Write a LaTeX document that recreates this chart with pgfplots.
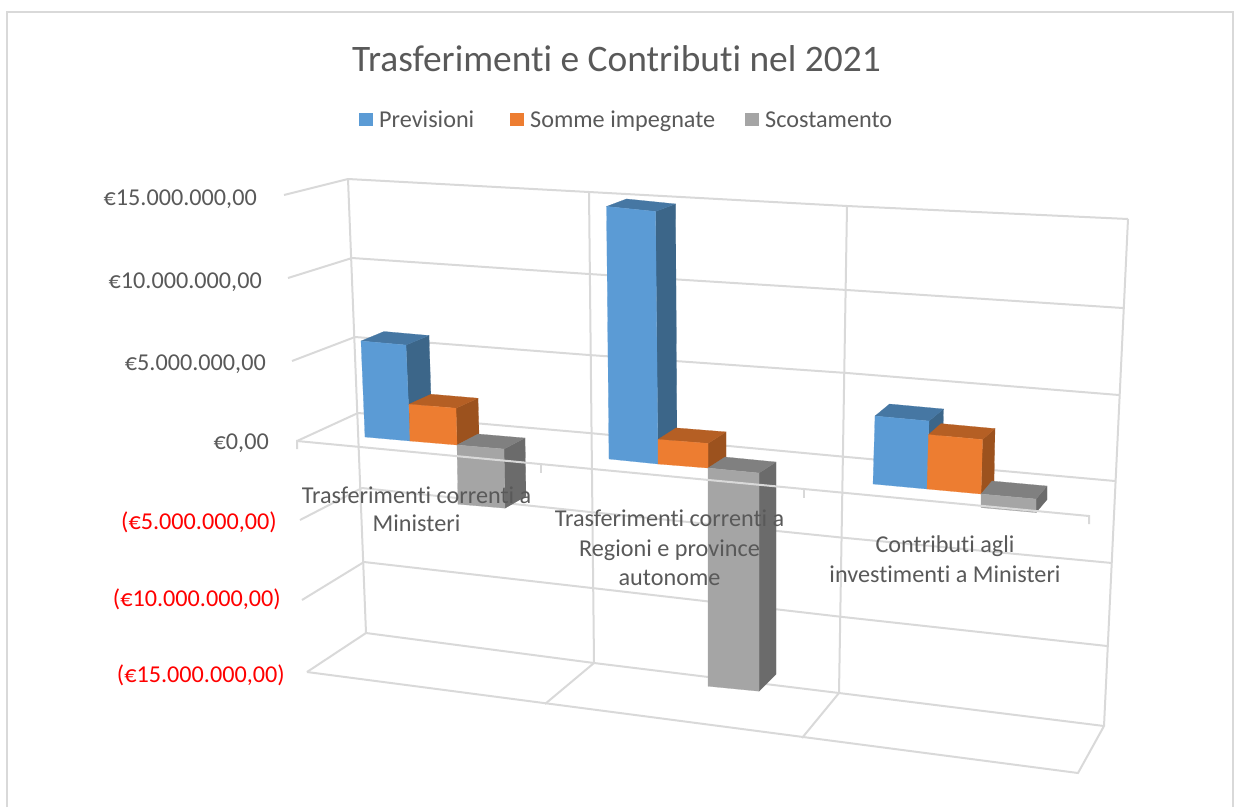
\documentclass[border=0pt]{standalone}
\usepackage{fontspec}
\setmainfont[Ligatures=NoCommon]{Carlito}
\usepackage{pgfplots}
\pgfplotsset{compat=1.18}
\definecolor{gridc}{HTML}{D9D9D9}
\definecolor{txt}{HTML}{595959}
\definecolor{bluef}{HTML}{5B9BD5}\definecolor{blues}{HTML}{3C6689}\definecolor{bluet}{HTML}{4677A3}
\definecolor{orangef}{HTML}{ED7D31}\definecolor{oranges}{HTML}{9C521E}\definecolor{oranget}{HTML}{B55F24}
\definecolor{greyf}{HTML}{A5A5A5}\definecolor{greys}{HTML}{6B6B6B}\definecolor{greyt}{HTML}{808080}
% one facet of a bar
\newcommand{\facet}[2]{\edef\tmp{\noexpand\addplot[fill=#1,draw=#1,line width=0.2pt] coordinates {#2} -- cycle;}\tmp}
% where the bar stands on the plane of zero: left and right corner, depth at the end and at the base
\newcommand{\setbase}[8]{\def\xL{#1}\def\yL{#2}\def\xR{#3}\def\yR{#4}\def\dxE{#5}\def\dyE{#6}\def\dxB{#7}\def\dyB{#8}}
% colour, value in millions of euro, pixels per million, lean of the bar
\newcommand{\drawbar}[4]{%
  \pgfmathsetmacro\eLx{\xL+#4}\pgfmathsetmacro\eLy{\yL-#3*#2}%
  \pgfmathsetmacro\eRx{\xR+#4}\pgfmathsetmacro\eRy{\yR-#3*#2}%
  \pgfmathsetmacro\eRbx{\eRx+\dxE}\pgfmathsetmacro\eRby{\eRy+\dyE}%
  \pgfmathsetmacro\eLbx{\eLx+\dxE}\pgfmathsetmacro\eLby{\eLy+\dyE}%
  \pgfmathsetmacro\bRbx{\xR+\dxB}\pgfmathsetmacro\bRby{\yR+\dyB}%
  \pgfmathsetmacro\bLbx{\xL+\dxB}\pgfmathsetmacro\bLby{\yL+\dyB}%
  \facet{#1s}{(\eRx,\eRy)(\xR,\yR)(\bRbx,\bRby)(\eRbx,\eRby)}%
  \ifdim#2pt>0pt
    \facet{#1t}{(\eLx,\eLy)(\eRx,\eRy)(\eRbx,\eRby)(\eLbx,\eLby)}%
  \else
    \facet{#1t}{(\xL,\yL)(\xR,\yR)(\bRbx,\bRby)(\bLbx,\bLby)}%
  \fi
  \facet{#1f}{(\xL,\yL)(\xR,\yR)(\eRx,\eRy)(\eLx,\eLy)}%
}
\begin{document}
\begin{tikzpicture}
\begin{axis}[
  width=1234pt, height=807pt, scale only axis, hide axis,
  xmin=0, xmax=1234, ymin=0, ymax=807, y dir=reverse, clip=true,
  every axis plot/.append style={no markers},
]
% outer frame
\addplot[gridc,line width=2pt] coordinates {(7,807)(7,12)(1232.5,12)(1232.5,807)};
% walls: gridlines for 15, 10, 5, 0, -5, -10, -15 millions
\addplot[gridc,line width=2pt] coordinates {(284,195)(348,179)(589,192)(847,206)(1128,219)};
\addplot[gridc,line width=2pt] coordinates {(288,278)(352,258)(589,274)(847,290)(1123,308)};
\addplot[gridc,line width=2pt] coordinates {(292,361)(355,337)(589,355)(847,373)(1119,395)};
\addplot[gridc,line width=2pt] coordinates {(297,441)(358,413)(589,433)(847,457)(1115,481)};
\addplot[gridc,line width=2pt] coordinates {(300,520)(362,488)(590,512)(846,538)(1112,563)};
\addplot[gridc,line width=2pt] coordinates {(302,600)(364,562)(592,588)(843,617)(1107,646)};
\addplot[gridc,line width=2pt] coordinates {(307,672)(366,633)(594,663)(839,693)(1104,726)};
% wall verticals and floor
\addplot[gridc,line width=2pt] coordinates {(348,179)(366,633)};
\addplot[gridc,line width=2pt] coordinates {(589,192)(594,663)};
\addplot[gridc,line width=2pt] coordinates {(847,206)(839,693)};
\addplot[gridc,line width=2pt] coordinates {(1128,219)(1104,726)(1078,773)(307,672)};
\addplot[gridc,line width=2pt] coordinates {(594,663)(545,704)};
\addplot[gridc,line width=2pt] coordinates {(839,693)(802,738)};
% Trasferimenti correnti a Ministeri
\setbase{365}{437}{410}{441}{23}{-9.5}{22}{-10}\drawbar{blue}{6.0}{16}{-4}
\setbase{410}{441}{457}{445}{22}{-10}{22}{-11}\drawbar{orange}{2.3}{16}{-1}
\setbase{457}{445}{504}{449}{21}{-12}{21}{-11}\drawbar{grey}{-3.7}{16}{1}
% Trasferimenti correnti a Regioni e province autonome
\setbase{609}{459}{658}{464}{20}{-7.5}{19}{-11}\drawbar{blue}{15.4}{16.4}{-2.5}
\setbase{658}{464}{708}{468}{18}{-11.5}{18}{-10}\drawbar{orange}{1.5}{16.4}{0}
\setbase{708}{468}{759}{473}{17}{-17}{17}{-11}\drawbar{grey}{-13.9}{15.7}{0}
% Contributi agli investimenti a Ministeri
\setbase{873}{484}{927}{489}{14.5}{-12}{15}{-12}\drawbar{blue}{4.0}{17}{2}
\setbase{927}{489}{981}{494}{12.5}{-11}{13}{-13}\drawbar{orange}{3.2}{17}{1.5}
\setbase{981}{494}{1036}{499}{11}{-13}{11}{-13}\drawbar{grey}{-0.8}{17}{0}
% zero axis with ticks, in front of the bars
\addplot[gridc,line width=2pt] coordinates {(297,449)(297,441)(1089,516)(1089,524)};
\addplot[gridc,line width=2pt] coordinates {(541,465)(541,473)};
\addplot[gridc,line width=2pt] coordinates {(804,490)(804,498)};
% legend squares
\addplot[fill=bluef,draw=none] coordinates {(359,112.5)(373,112.5)(373,126)(359,126)} -- cycle;
\addplot[fill=orangef,draw=none] coordinates {(510,112.5)(524,112.5)(524,126)(510,126)} -- cycle;
\addplot[fill=greyf,draw=none] coordinates {(745,112.5)(759,112.5)(759,126)(745,126)} -- cycle;
% texts
\node[text=txt,font=\fontsize{37.4}{44}\selectfont,anchor=center] at (axis cs:616.5,59) {Trasferimenti e Contributi nel 2021};
\begin{scope}[every node/.style={text=txt,font=\fontsize{24.2}{28}\selectfont,inner xsep=0pt}]
\node[anchor=base west] at (axis cs:379,127) {Previsioni};
\node[anchor=base west] at (axis cs:530,127) {Somme impegnate};
\node[anchor=base west] at (axis cs:765,127) {Scostamento};
\node[anchor=base east] at (axis cs:257,205) {€15.000.000,00};
\node[anchor=base east] at (axis cs:262,288) {€10.000.000,00};
\node[anchor=base east] at (axis cs:266,370) {€5.000.000,00};
\node[anchor=base east] at (axis cs:269,449) {€0,00};
\node[anchor=base east,text=red] at (axis cs:277,529) {(€5.000.000,00)};
\node[anchor=base east,text=red] at (axis cs:281,606) {(€10.000.000,00)};
\node[anchor=base east,text=red] at (axis cs:285,682) {(€15.000.000,00)};
\node[anchor=base] at (axis cs:416.5,503) {Trasferimenti correnti a};
\node[anchor=base] at (axis cs:416.5,531) {Ministeri};
\node[anchor=base] at (axis cs:669.5,526) {Trasferimenti correnti a};
\node[anchor=base] at (axis cs:669.5,556) {Regioni e province};
\node[anchor=base] at (axis cs:669.5,585) {autonome};
\node[anchor=base] at (axis cs:945,552) {Contributi agli};
\node[anchor=base] at (axis cs:945,582) {investimenti a Ministeri};
\end{scope}
\end{axis}
\useasboundingbox (current axis.south west) rectangle (current axis.north east);
\end{tikzpicture}
\end{document}
